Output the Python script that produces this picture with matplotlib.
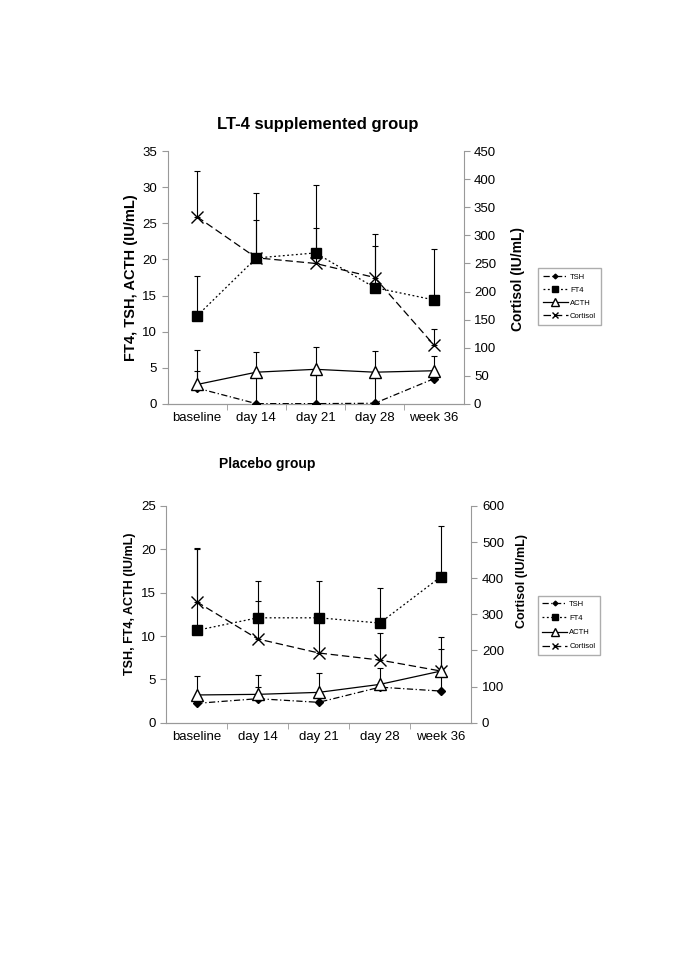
import matplotlib
matplotlib.use("Agg")
import matplotlib.pyplot as plt
import numpy as np

plt.rcParams['font.family'] = ['Liberation Sans', 'DejaVu Sans']

categories = ["baseline", "day 14", "day 21", "day 28", "week 36"]

# LT-4 supplemented group
lt4_tsh = [2.2, 0.05, 0.05, 0.1, 3.5]
lt4_tsh_err = [2.4, 4.3, 4.7, 4.3, 1.1]
lt4_ft4 = [12.2, 20.2, 20.9, 16.1, 14.4]
lt4_ft4_err = [5.5, 5.2, 3.4, 5.8, 7.0]
lt4_acth = [2.7, 4.4, 4.8, 4.4, 4.6]
lt4_acth_err = [4.8, 2.75, 3.1, 2.9, 2.0]
lt4_cort = [333, 260, 250, 225, 105]
lt4_cort_err = [82, 116, 140, 77, 28]

# Placebo group
pl_tsh = [2.23, 2.77, 2.35, 4.1, 3.65]
pl_tsh_err = [1.0, 1.3, 1.1, 0.3, 2.3]
pl_ft4 = [10.65, 12.1, 12.1, 11.5, 16.85]
pl_ft4_err = [9.55, 4.2, 4.25, 4.0, 5.85]
pl_acth = [3.2, 3.27, 3.5, 4.42, 5.96]
pl_acth_err = [2.2, 2.23, 2.27, 1.85, 2.6]
pl_cort = [335, 232, 193, 173.5, 143]
pl_cort_err = [145, 105, 100, 75, 95]

fig = plt.figure(figsize=(6.85, 9.68), dpi=100)
W, H = 685, 968

def rect(l, r, t, b):
    return [l / W, (H - b) / H, (r - l) / W, (b - t) / H]

def draw(ax_rect, tsh, tsh_e, ft4, ft4_e, acth, acth_e, cort, cort_e,
         lmax, lstep, rmax, rstep, fs):
    ax = fig.add_axes(ax_rect)
    ax2 = ax.twinx()
    x = np.arange(len(categories))
    z = np.zeros(len(categories))
    ekw = dict(ecolor='black', elinewidth=0.8, capsize=2, capthick=0.8)
    ax.errorbar(x, tsh, yerr=[z, tsh_e], fmt='none', **ekw)
    ax.errorbar(x, ft4, yerr=[z, ft4_e], fmt='none', **ekw)
    ax.errorbar(x, acth, yerr=[z, acth_e], fmt='none', **ekw)
    h1, = ax.plot(x, tsh, color='black', lw=0.9, linestyle=(0, (5, 2, 1, 2)),
                  marker='D', markersize=4, markerfacecolor='black', label='TSH', zorder=4)
    h2, = ax.plot(x, ft4, color='black', lw=0.9, linestyle=(0, (1.5, 2)),
                  marker='s', markersize=7.5, markerfacecolor='black', label='FT4', zorder=4)
    h3, = ax.plot(x, acth, color='black', lw=0.9, linestyle='-',
                  marker='^', markersize=9, markerfacecolor='white',
                  markeredgecolor='black', label='ACTH', zorder=5)
    ax2.errorbar(x, cort, yerr=[z, cort_e], fmt='none', **ekw)
    h4, = ax2.plot(x, cort, color='black', lw=0.9, linestyle=(0, (6, 3)),
                   marker='x', markersize=8, markeredgewidth=1.0, label='Cortisol', zorder=4)
    ax.set_xlim(-0.5, len(categories) - 0.5)
    ax.set_ylim(0, lmax)
    ax2.set_ylim(0, rmax)
    ax.set_yticks(np.arange(0, lmax + 0.01, lstep))
    ax2.set_yticks(np.arange(0, rmax + 0.01, rstep))
    ax.set_xticks(x)
    ax.set_xticklabels(categories, fontsize=fs)
    ax.set_xticks(np.arange(0.5, len(categories) - 1, 1), minor=True)
    ax.tick_params(axis='x', which='major', length=0, pad=6)
    ax.tick_params(axis='x', which='minor', length=4, color='#999999', direction='out')
    ax.tick_params(axis='y', labelsize=fs, length=4, color='#999999', direction='out')
    ax2.tick_params(axis='y', labelsize=fs, length=4, color='#999999', direction='out')
    for a in (ax, ax2):
        a.spines['top'].set_visible(False)
        for s in ('left', 'right', 'bottom'):
            a.spines[s].set_color('#999999')
            a.spines[s].set_linewidth(0.8)
    ax2.spines['left'].set_visible(False)
    ax.spines['right'].set_visible(False)
    ax.set_zorder(ax2.get_zorder() + 1)
    ax.patch.set_visible(False)
    return ax, ax2, [h1, h2, h3, h4]

# Top chart
ax, ax2, hs = draw(rect(167.5, 463.5, 151, 404), lt4_tsh, lt4_tsh_err, lt4_ft4, lt4_ft4_err,
                   lt4_acth, lt4_acth_err, lt4_cort, lt4_cort_err, 35, 5, 450, 50, 9.5)
fig.text(318 / W, 1 - 125 / H, "LT-4 supplemented group", ha='center', va='center',
         fontsize=12, fontweight='bold')
fig.text(131 / W, 1 - 278 / H, "FT4, TSH, ACTH (IU/mL)", rotation=90, ha='center', va='center',
         fontsize=10.5, fontweight='bold')
fig.text(518 / W, 1 - 279 / H, "Cortisol (IU/mL)", rotation=90, ha='center', va='center',
         fontsize=10, fontweight='bold')
fig.legend(hs, [h.get_label() for h in hs], loc='upper left',
           bbox_to_anchor=(534 / W, 1 - 264 / H), fontsize=5.5, frameon=True,
           fancybox=False, edgecolor='#999999', handlelength=3.2, markerscale=0.6,
           borderpad=0.7, labelspacing=0.75, handletextpad=0.3)

# Bottom chart
ax, ax2, hs = draw(rect(166, 471.5, 506, 722.7), pl_tsh, pl_tsh_err, pl_ft4, pl_ft4_err,
                   pl_acth, pl_acth_err, pl_cort, pl_cort_err, 25, 5, 600, 100, 9.5)
fig.text(267 / W, 1 - 464 / H, "Placebo group", ha='center', va='center',
         fontsize=10, fontweight='bold')
fig.text(130 / W, 1 - 604 / H, "TSH, FT4, ACTH (IU/mL)", rotation=90, ha='center', va='center',
         fontsize=9, fontweight='bold')
fig.text(522 / W, 1 - 581 / H, "Cortisol (IU/mL)", rotation=90, ha='center', va='center',
         fontsize=9, fontweight='bold')
fig.legend(hs, [h.get_label() for h in hs], loc='upper left',
           bbox_to_anchor=(534 / W, 1 - 592 / H), fontsize=5.5, frameon=True,
           fancybox=False, edgecolor='#999999', handlelength=3.2, markerscale=0.6,
           borderpad=0.6, labelspacing=0.9, handletextpad=0.3)

fig.savefig("out.png", dpi=100, facecolor='white')
